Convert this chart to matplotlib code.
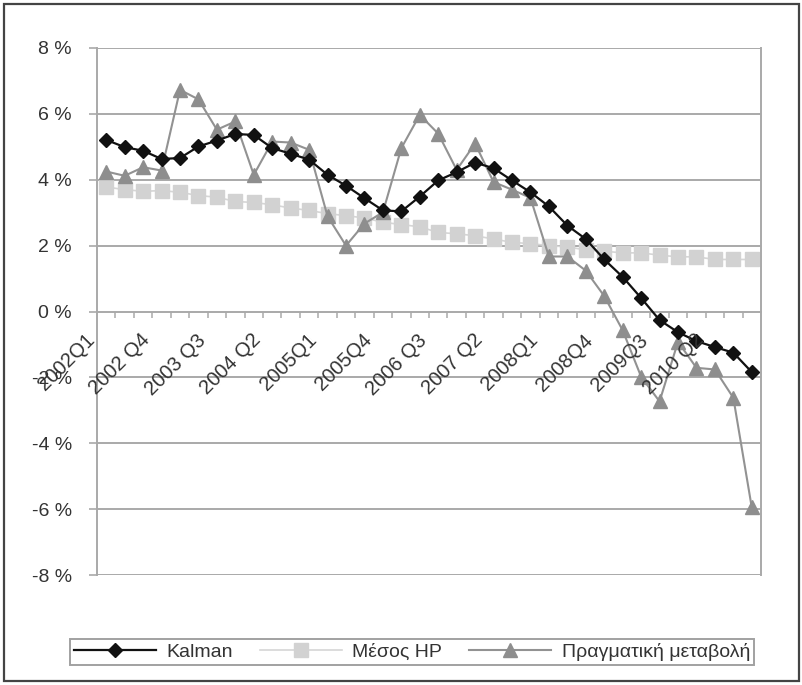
import matplotlib
matplotlib.use("Agg")
import matplotlib.pyplot as plt
import matplotlib.transforms as mtransforms
from matplotlib.patches import Rectangle
import numpy as np

plt.rcParams['font.family'] = ['Liberation Sans', 'DejaVu Sans']

quarters = [f"{y}Q{q}" for y in range(2002, 2011) for q in range(1, 5)]

kalman = [5.21, 4.99, 4.88, 4.63, 4.66, 5.01, 5.19, 5.39, 5.36,
          4.96, 4.79, 4.61, 4.15, 3.82, 3.44, 3.07, 3.04, 3.49,
          3.98, 4.23, 4.52, 4.35, 3.98, 3.62, 3.19, 2.61, 2.20,
          1.58, 1.05, 0.41, -0.26, -0.63, -0.90, -1.08, -1.25, -1.84]

hp_mean = [3.78, 3.70, 3.65, 3.67, 3.62, 3.52, 3.47, 3.34, 3.31,
           3.24, 3.14, 3.07, 2.97, 2.91, 2.84, 2.71, 2.64, 2.57,
           2.40, 2.36, 2.30, 2.20, 2.10, 2.06, 2.00, 1.96, 1.87,
           1.83, 1.78, 1.78, 1.71, 1.66, 1.66, 1.58, 1.58, 1.58]

actual = [4.25, 4.12, 4.38, 4.28, 6.73, 6.44, 5.52, 5.77, 4.15,
          5.16, 5.13, 4.91, 2.89, 2.00, 2.67, 3.01, 4.96, 5.97,
          5.40, 4.30, 5.10, 3.93, 3.70, 3.45, 1.67, 1.67, 1.24,
          0.47, -0.57, -1.98, -2.73, -0.92, -1.71, -1.76, -2.62, -5.95]

label_idx = [0, 3, 6, 9, 12, 15, 18, 21, 24, 27, 30, 33]
label_text = ["2002Q1", "2002 Q4", "2003 Q3", "2004 Q2", "2005Q1", "2005Q4",
              "2006 Q3", "2007 Q2", "2008Q1", "2008Q4", "2009Q3", "2010 Q2"]

y_ticks = [8, 6, 4, 2, 0, -2, -4, -6, -8]

series_names = ["Kalman", "Μέσος HP", "Πραγματική μεταβολή"]

W, H = 802, 685
fig = plt.figure(figsize=(W / 100, H / 100), dpi=100)
ax = fig.add_axes([97 / W, 1 - 575 / H, (761 - 97) / W, (575 - 48) / H])

x = np.arange(len(quarters))
grid_c = '#a9a9a9'
text_c = '#333333'

for v in y_ticks:
    if v != 0:
        ax.axhline(v, color=grid_c, lw=1.4, zorder=0)

l_hp, = ax.plot(x, hp_mean, color='#d6d6d6', lw=1.2, marker='s', markersize=9.5,
                markerfacecolor='#d2d2d2', markeredgecolor='#d2d2d2', zorder=2,
                label=series_names[1])
l_act, = ax.plot(x, actual, color='#929292', lw=1.5, marker='^', markersize=10.5,
                 markerfacecolor='#8e8e8e', markeredgecolor='#8e8e8e', zorder=3,
                 label=series_names[2])
l_k, = ax.plot(x, kalman, color='#111111', lw=1.6, marker='D', markersize=7.5,
               markerfacecolor='#111111', markeredgecolor='#111111', zorder=4,
               label=series_names[0])

ax.set_xlim(-0.5, len(quarters) - 0.5)
ax.set_ylim(-8, 8)

ax.spines['top'].set_visible(False)
ax.spines['left'].set_color(grid_c)
ax.spines['left'].set_linewidth(1.4)
ax.spines['right'].set_color(grid_c)
ax.spines['right'].set_linewidth(1.4)
ax.spines['bottom'].set_position(('data', 0))
ax.spines['bottom'].set_color(grid_c)
ax.spines['bottom'].set_linewidth(1.4)

ax.set_yticks(y_ticks)
ax.set_yticklabels([f"{v} %" for v in y_ticks], fontsize=14, color=text_c)
ax.tick_params(axis='y', length=6, width=1.2, color=grid_c, pad=12)

ax.set_xticks(x[:-1] + 0.5)
ax.set_xticklabels([])
ax.tick_params(axis='x', length=4, width=1.1, color=grid_c, direction='out')

offset = mtransforms.ScaledTranslation(-21 / 100, -19 / 100, fig.dpi_scale_trans)
for i, t in zip(label_idx, label_text):
    ax.text(x[i], 0, t, transform=ax.transData + offset, rotation=45,
            rotation_mode='anchor', ha='right', va='top', fontsize=14.5,
            color=text_c, zorder=5)

leg = fig.legend(handles=[l_k, l_hp, l_act], labels=series_names, loc='center',
                 bbox_to_anchor=(412 / W, 1 - 652 / H), ncol=3, fontsize=14,
                 frameon=True, fancybox=False, handlelength=4.2,
                 handletextpad=0.55, columnspacing=1.4, borderpad=0.2,
                 edgecolor='#8a8a8a')
leg.get_frame().set_linewidth(1.4)
for t in leg.get_texts():
    t.set_color(text_c)

fig.patches.append(Rectangle((4 / W, 1 - 681 / H), (799 - 4) / W, (681 - 4) / H,
                             transform=fig.transFigure, fill=False,
                             edgecolor='#444444', lw=1.6))

fig.savefig('out.png', dpi=100)
